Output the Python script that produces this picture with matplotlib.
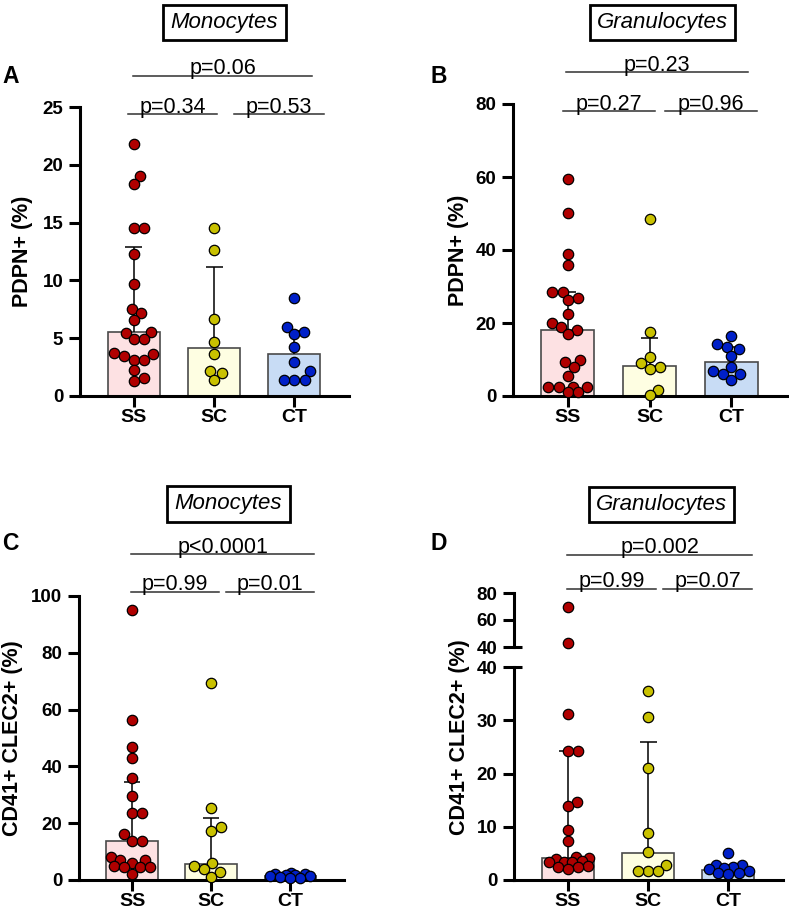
import matplotlib
matplotlib.use("Agg")
import numpy as np
import matplotlib.pyplot as plt
from matplotlib.transforms import blended_transform_factory

W, H = 789, 915
GROUPS = ["SS", "SC", "CT"]

# Panel A: monocytes, PDPN+ (%)
mono_pdpn_ss = [21.8, 19.05, 18.35, 14.55, 14.55, 12.25, 9.7, 7.5, 7.15, 6.55, 5.5,
                5.45, 4.9, 4.9, 3.7, 3.6, 3.45, 3.15, 3.15, 2.25, 1.55, 1.3]
mono_pdpn_sc = [14.55, 12.65, 6.65, 4.65, 3.65, 2.2, 1.95, 1.4]
mono_pdpn_ct = [8.5, 6.0, 5.5, 5.35, 4.2, 2.95, 2.15, 1.4, 1.4, 1.4]
mono_pdpn_bar = [5.5, 4.15, 3.6]
mono_pdpn_err = [12.9, 11.2, 5.65]
mono_pdpn_p = ["p=0.06", "p=0.34", "p=0.53"]

# Panel B: granulocytes, PDPN+ (%)
gran_pdpn_ss = [59.4, 50.0, 38.9, 35.9, 28.6, 28.6, 26.8, 26.2, 22.6, 20.1, 19.0, 18.1,
                16.9, 10.0, 9.4, 7.9, 5.6, 2.6, 2.4, 2.4, 2.6, 1.2, 1.2]
gran_pdpn_sc = [48.4, 17.4, 10.8, 9.0, 7.9, 7.3, 1.6, 0.2]
gran_pdpn_ct = [16.4, 14.2, 13.5, 12.8, 11.0, 8.0, 6.9, 6.0, 5.9, 4.4]
gran_pdpn_bar = [18.1, 8.3, 9.2]
gran_pdpn_err = [28.6, 15.8, 13.5]
gran_pdpn_p = ["p=0.23", "p=0.27", "p=0.96"]

# Panel C: monocytes, CD41+ CLEC2+ (%)
mono_clec_ss = [95.2, 56.3, 47.0, 42.8, 36.0, 29.7, 23.7, 23.7, 16.2, 13.8, 13.8, 8.2,
                7.0, 7.0, 6.1, 4.9, 4.5, 4.5, 4.5, 2.1]
mono_clec_sc = [69.2, 25.4, 18.5, 17.4, 5.9, 4.9, 3.75, 2.8, 1.2]
mono_clec_ct = [2.3, 2.2, 2.1, 1.9, 1.6, 1.4, 1.3, 1.0, 0.8, 0.6]
mono_clec_bar = [13.7, 5.5, 1.3]
mono_clec_err = [34.4, 21.9, 2.1]
mono_clec_p = ["p<0.0001", "p=0.99", "p=0.01"]

# Panel D: granulocytes, CD41+ CLEC2+ (%), broken axis at 40
gran_clec_ss = [70, 43, 31.2, 24.3, 24.2, 14.7, 13.9, 9.4, 7.3, 4.3, 4.1, 3.9, 3.6,
                3.4, 3.3, 3.3, 2.7, 2.5, 2.5, 2.1]
gran_clec_sc = [35.4, 30.7, 21.0, 8.8, 5.2, 2.9, 1.7, 1.7, 1.7]
gran_clec_ct = [5.0, 2.8, 2.8, 2.5, 2.2, 2.0, 1.6, 1.3, 1.3, 1.1]
gran_clec_bar = [4.1, 5.1, 1.9]
gran_clec_err = [24.3, 25.9, 2.8]
gran_clec_p = ["p=0.002", "p=0.99", "p=0.07"]

BAR_FILL = ["#fde1e3", "#fefee2", "#c8dcf5"]
DOT_FILL = ["#b00000", "#c9c100", "#0020c8"]
XLIM = (-0.67, 2.68)
DOT_PX = 10.2
SPREAD = 0.27  # max horizontal spread of the dots, in category units

plt.rcParams["font.family"] = ["Liberation Sans", "DejaVu Sans"]
fig = plt.figure(figsize=(W / 100, H / 100), dpi=100)


def add_ax(l, t, r, b):
    return fig.add_axes([l / W, 1 - b / H, (r - l) / W, (b - t) / H])


def swarm(values, sx, sy, base=0.0):
    """Greedy beeswarm offsets (data units), packed inside +-SPREAD."""
    values = np.asarray(values, dtype=float)
    offs = np.zeros(len(values))
    lim = SPREAD * sx
    grid = np.linspace(-lim, lim, 121)
    placed = []
    for i in np.argsort(values, kind="stable"):
        y = (values[i] - base) * sy
        iv = []
        for px, py in placed:
            dy = abs(py - y)
            if dy < DOT_PX:
                w = np.sqrt(DOT_PX ** 2 - dy ** 2)
                iv.append((px - w, px + w))
        cands = [0.0] + [e for a in iv for e in a]
        ok = [c for c in cands if abs(c) <= lim + 1e-6
              and all(not (a + 1e-6 < c < b - 1e-6) for a, b in iv)]
        if ok:
            best = min(ok, key=lambda c: (abs(c), -c))
        else:
            pts = np.array(placed)
            dist = [np.min(np.hypot(pts[:, 0] - g, pts[:, 1] - y)) for g in grid]
            best = grid[int(np.argmax(dist))]
        placed.append((best, y))
        offs[i] = best / sx
    return offs


def px_scale(ax):
    bb = ax.get_position()
    x0, x1 = ax.get_xlim()
    y0, y1 = ax.get_ylim()
    return bb.width * W / (x1 - x0), bb.height * H / (y1 - y0)


def style(ax, yticks, bottom=True):
    ax.set_xlim(*XLIM)
    for s in ("top", "right"):
        ax.spines[s].set_visible(False)
    ax.spines["left"].set_linewidth(2.2)
    ax.spines["bottom"].set_linewidth(2.2)
    ax.spines["bottom"].set_visible(bottom)
    ax.set_yticks(yticks)
    ax.tick_params(axis="both", direction="out", length=8, width=2.2,
                   labelsize=13.5, pad=4)
    for lab in ax.get_yticklabels():
        lab.set_fontweight("bold")
    if bottom:
        ax.set_xticks(range(3))
        ax.set_xticklabels(GROUPS, fontsize=14, fontweight="bold")
        ax.tick_params(axis="x", pad=1)
    else:
        ax.set_xticks([])


def draw_groups(ax, groups, bars, errs, cut=None, upper=None):
    x = np.arange(3)
    ax.bar(x, bars, width=0.65, color=BAR_FILL, edgecolor="#4a4a4a",
           linewidth=1.2, zorder=1)
    ax.vlines(x, bars, errs, color="black", lw=1.1, zorder=2)
    ax.hlines(errs, x - 0.105, x + 0.105, color="black", lw=1.1, zorder=2)
    sx, sy = px_scale(ax)
    for i, vals in enumerate(groups):
        vals = np.asarray(vals, dtype=float)
        low = vals if cut is None else vals[vals <= cut]
        ax.scatter(i + swarm(low, sx, sy), low, s=56, c=DOT_FILL[i],
                   edgecolors="black", linewidths=0.9, zorder=3, clip_on=False)
        if cut is not None:
            high = vals[vals > cut]
            if len(high):
                usx, usy = px_scale(upper)
                upper.scatter(i + swarm(high, usx, usy, cut), high, s=56,
                              c=DOT_FILL[i], edgecolors="black", linewidths=0.9,
                              zorder=3, clip_on=False)


def brackets(ax, labels, top_y, low_y, top_x, low1_x, low2_x):
    tr = blended_transform_factory(ax.transData, fig.transFigure)
    for lab, (xa, xb), py in zip(labels, (top_x, low1_x, low2_x),
                                 (top_y, low_y, low_y)):
        yf = 1 - py / H
        ax.plot([xa, xb], [yf, yf], transform=tr, color="#303030", lw=1.1,
                clip_on=False)
        ax.text((xa + xb) / 2, yf + 1.5 / H, lab, transform=tr, ha="center",
                va="baseline", fontsize=15.5)


def box_title(cx, cy, text):
    fig.text(cx / W, 1 - cy / H, text, style="italic", fontsize=16, ha="center",
             va="center", bbox=dict(boxstyle="square,pad=0.33", fc="white",
                                    ec="black", lw=2))


def letter(x, y, text):
    fig.text(x / W, 1 - y / H, text, fontsize=16.5, fontweight="bold",
             va="baseline", ha="left")


def ylabel(cx, cy, text):
    fig.text(cx / W, 1 - cy / H, text, rotation=90, ha="center", va="center",
             fontsize=15.5, fontweight="bold")


# A
axA = add_ax(80, 107, 349, 396)
axA.set_ylim(0, 25)
style(axA, [0, 5, 10, 15, 20, 25])
draw_groups(axA, [mono_pdpn_ss, mono_pdpn_sc, mono_pdpn_ct], mono_pdpn_bar, mono_pdpn_err)
brackets(axA, mono_pdpn_p, 75.7, 114, (-0.01, 2.22), (-0.07, 1.04), (1.25, 2.37))

# B
axB = add_ax(513, 104, 787, 396)
axB.set_ylim(0, 80)
style(axB, [0, 20, 40, 60, 80])
draw_groups(axB, [gran_pdpn_ss, gran_pdpn_sc, gran_pdpn_ct], gran_pdpn_bar, gran_pdpn_err)
brackets(axB, gran_pdpn_p, 72, 111, (-0.02, 2.2), (-0.06, 1.07), (1.19, 2.31))

# C
axC = add_ax(79, 596, 344, 880)
axC.set_ylim(0, 100)
style(axC, [0, 20, 40, 60, 80, 100])
draw_groups(axC, [mono_clec_ss, mono_clec_sc, mono_clec_ct], mono_clec_bar, mono_clec_err)
brackets(axC, mono_clec_p, 554, 591.7, (-0.01, 2.3), (-0.01, 1.1), (1.19, 2.3))

# D (broken axis)
axD = add_ax(514, 667, 783, 880)
axD.set_ylim(0, 40)
style(axD, [0, 10, 20, 30, 40])
axDu = add_ax(514, 593, 783, 647)
axDu.set_ylim(40, 80)
style(axDu, [40, 60, 80], bottom=False)
draw_groups(axD, [gran_clec_ss, gran_clec_sc, gran_clec_ct], gran_clec_bar,
            gran_clec_err, cut=40, upper=axDu)
for a in (axD, axDu):
    tr = blended_transform_factory(a.transAxes, a.transData)
    a.plot([0, 0.03], [40, 40], transform=tr, color="black", lw=2.2,
           clip_on=False, solid_capstyle="butt")
brackets(axDu, gran_clec_p, 555, 589, (-0.01, 2.3), (-0.01, 1.1), (1.19, 2.3))

box_title(224.5, 22.5, "Monocytes")
box_title(662.5, 22.5, "Granulocytes")
box_title(228.5, 504, "Monocytes")
box_title(661.5, 504.5, "Granulocytes")

letter(2, 83, "A")
letter(430, 83, "B")
letter(2, 550, "C")
letter(430, 550, "D")

ylabel(22.5, 251, "PDPN+ (%)")
ylabel(458, 250, "PDPN+ (%)")
ylabel(13, 738, "CD41+ CLEC2+ (%)")
ylabel(460, 737, "CD41+ CLEC2+ (%)")

fig.savefig("out.png", dpi=100)
